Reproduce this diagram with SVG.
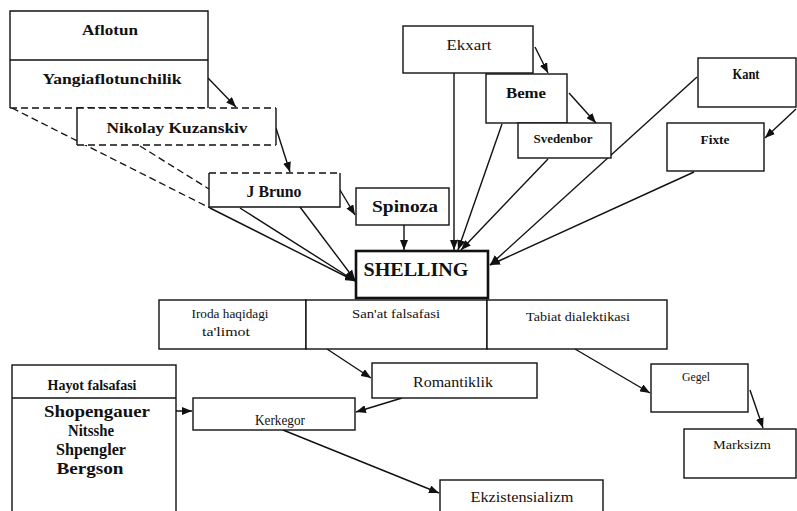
<svg xmlns="http://www.w3.org/2000/svg" width="797" height="511" viewBox="0 0 797 511">
<style>
.box{fill:#fff;stroke:#111;stroke-width:1.4}
.thick{fill:#fff;stroke:#111;stroke-width:2.6}
.ln{fill:none;stroke:#111;stroke-width:1.4}
.dash{fill:none;stroke:#111;stroke-width:1.3;stroke-dasharray:7 4}
text{font-family:"Liberation Serif","Times New Roman",serif;fill:#111;text-anchor:middle}
.b{font-weight:bold}
</style>
<defs>
<marker id="ah" viewBox="0 0 10 8" refX="10" refY="4" markerWidth="10" markerHeight="8" markerUnits="userSpaceOnUse" orient="auto">
<path d="M0,0 L10,4 L0,8 z" fill="#111"/>
</marker>
</defs>
<rect width="797" height="511" fill="#fff"/>

<g id="connectors">
<path class="ln" d="M208,78 L236,107" marker-end="url(#ah)"/>
<path class="ln" d="M276,128 L290,172" marker-end="url(#ah)"/>
<path class="ln" d="M340,190 L355,215" marker-end="url(#ah)"/>
<path class="ln" d="M404,225 L404,250" marker-end="url(#ah)"/>
<path class="dash" d="M12,108 L210,208"/>
<path class="ln" d="M210,208 L355,281" marker-end="url(#ah)"/>
<path class="dash" d="M140,146 L209,189"/>
<path class="ln" d="M240,208 L355,281" marker-end="url(#ah)"/>
<path class="ln" d="M300,207 L355,280" marker-end="url(#ah)"/>
<path class="ln" d="M454,73 L454,250" marker-end="url(#ah)"/>
<path class="ln" d="M502,124 L458,250" marker-end="url(#ah)"/>
<path class="ln" d="M548,159 L461,250" marker-end="url(#ah)"/>
<path class="ln" d="M697,77 L490,265" marker-end="url(#ah)"/>
<path class="ln" d="M694,172 L490,265" marker-end="url(#ah)"/>
<path class="ln" d="M535,47 L548,73" marker-end="url(#ah)"/>
<path class="ln" d="M569,93 L596,123" marker-end="url(#ah)"/>
<path class="ln" d="M796,109 L765,138" marker-end="url(#ah)"/>
<path class="ln" d="M327,349 L371,378" marker-end="url(#ah)"/>
<path class="ln" d="M402,398 L356,412" marker-end="url(#ah)"/>
<path class="ln" d="M152,411 L192,411" marker-end="url(#ah)"/>
<path class="ln" d="M283,430 L439,493" marker-end="url(#ah)"/>
<path class="ln" d="M575,349 L650,393" marker-end="url(#ah)"/>
<path class="ln" d="M750,390 L763,428" marker-end="url(#ah)"/>
</g>

<g id="aflotun">
<path class="box" d="M10,108 L10,11 L208,11 L208,108"/>
<path class="dash" d="M10,108 L208,108"/>
<line class="ln" x1="10" y1="60" x2="208" y2="60"/>
<text class="b" x="110" y="35" font-size="15" textLength="56" lengthAdjust="spacingAndGlyphs">Aflotun</text>
<text class="b" x="112" y="84" font-size="15" textLength="139" lengthAdjust="spacingAndGlyphs">Yangiaflotunchilik</text>
</g>

<g id="kuzanskiy">
<rect x="77" y="108" width="199" height="37" fill="#fff" stroke="none"/>
<path class="ln" d="M77,108 L77,145 M276,108 L276,145"/>
<path class="dash" d="M77,108 L276,108 M77,145 L276,145"/>
<text class="b" x="177" y="133" font-size="15" textLength="141" lengthAdjust="spacingAndGlyphs">Nikolay Kuzanskiv</text>
</g>

<g id="bruno">
<rect x="209" y="173" width="131" height="34" fill="#fff" stroke="none"/>
<path class="ln" d="M209,173 L209,207 L340,207 L340,173"/>
<path class="dash" d="M209,173 L340,173"/>
<text class="b" x="274" y="197" font-size="16" textLength="55" lengthAdjust="spacingAndGlyphs">J Bruno</text>
</g>

<g id="spinoza">
<rect class="box" x="356" y="188" width="93" height="37"/>
<text class="b" x="405" y="212" font-size="16" textLength="66" lengthAdjust="spacingAndGlyphs">Spinoza</text>
</g>

<g id="shelling">
<rect class="thick" x="356" y="251" width="132" height="47"/>
<text class="b" x="416" y="276" font-size="18" textLength="105" lengthAdjust="spacingAndGlyphs">SHELLING</text>
</g>

<g id="ekxart">
<rect class="box" x="403" y="26" width="130" height="47"/>
<text x="469" y="50" font-size="15" textLength="45" lengthAdjust="spacingAndGlyphs">Ekxart</text>
</g>

<g id="beme">
<rect class="box" x="486" y="74" width="81" height="49"/>
<text class="b" x="526" y="98" font-size="15" textLength="40" lengthAdjust="spacingAndGlyphs">Beme</text>
</g>

<g id="svedenbor">
<rect class="box" x="518" y="123" width="93" height="35"/>
<text class="b" x="563" y="143" font-size="13" textLength="59" lengthAdjust="spacingAndGlyphs">Svedenbor</text>
</g>

<g id="kant">
<rect class="box" x="698" y="58" width="98" height="49"/>
<text class="b" x="746" y="79" font-size="14" textLength="27" lengthAdjust="spacingAndGlyphs">Kant</text>
</g>

<g id="fixte">
<rect class="box" x="667" y="123" width="97" height="48"/>
<text class="b" x="715" y="144" font-size="13" textLength="29" lengthAdjust="spacingAndGlyphs">Fixte</text>
</g>

<g id="iroda">
<rect class="box" x="159" y="300" width="147" height="49"/>
<text x="230" y="318" font-size="12" textLength="77" lengthAdjust="spacingAndGlyphs">Iroda haqidagi</text>
<text x="226" y="336" font-size="12" textLength="48" lengthAdjust="spacingAndGlyphs">ta'limot</text>
</g>

<g id="sanat">
<rect class="box" x="306" y="300" width="181" height="49"/>
<text x="396" y="318" font-size="13" textLength="88" lengthAdjust="spacingAndGlyphs">San'at falsafasi</text>
</g>

<g id="tabiat">
<rect class="box" x="487" y="300" width="180" height="49"/>
<text x="578" y="321" font-size="13" textLength="104" lengthAdjust="spacingAndGlyphs">Tabiat dialektikasi</text>
</g>

<g id="romantiklik">
<rect class="box" x="372" y="363" width="165" height="35"/>
<text x="453" y="387" font-size="15" textLength="80" lengthAdjust="spacingAndGlyphs">Romantiklik</text>
</g>

<g id="hayot">
<rect class="box" x="12" y="365" width="164" height="160"/>
<line class="ln" x1="12" y1="398" x2="176" y2="398"/>
<text class="b" x="92" y="390" font-size="15" textLength="89" lengthAdjust="spacingAndGlyphs">Hayot falsafasi</text>
<text class="b" x="97" y="417" font-size="16" textLength="106" lengthAdjust="spacingAndGlyphs">Shopengauer</text>
<text class="b" x="91" y="436" font-size="16" textLength="46" lengthAdjust="spacingAndGlyphs">Nitsshe</text>
<text class="b" x="91" y="455" font-size="16" textLength="70" lengthAdjust="spacingAndGlyphs">Shpengler</text>
<text class="b" x="90" y="474" font-size="16" textLength="67" lengthAdjust="spacingAndGlyphs">Bergson</text>
</g>

<g id="kerkegor">
<rect class="box" x="193" y="398" width="162" height="32"/>
<text x="280" y="425" font-size="15" textLength="50" lengthAdjust="spacingAndGlyphs">Kerkegor</text>
</g>

<g id="ekzistensializm">
<rect class="box" x="440" y="480" width="163" height="45"/>
<text x="522" y="502" font-size="15" textLength="103" lengthAdjust="spacingAndGlyphs">Ekzistensializm</text>
</g>

<g id="gegel">
<rect class="box" x="651" y="364" width="97" height="48"/>
<text x="696" y="381" font-size="13" textLength="28" lengthAdjust="spacingAndGlyphs">Gegel</text>
</g>

<g id="marksizm">
<rect class="box" x="684" y="429" width="112" height="49"/>
<text x="742" y="449" font-size="13" textLength="58" lengthAdjust="spacingAndGlyphs">Marksizm</text>
</g>
</svg>
